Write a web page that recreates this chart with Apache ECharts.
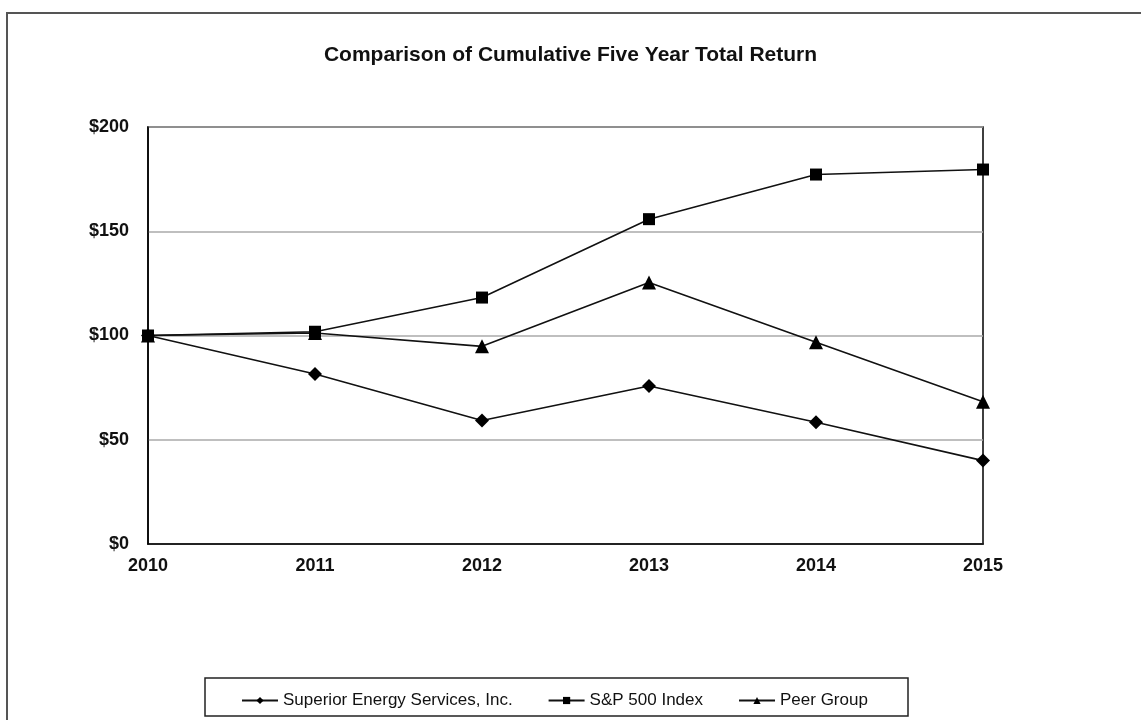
<!DOCTYPE html>
<html>
<head>
<meta charset="utf-8">
<script src="https://cdn.jsdelivr.net/npm/echarts@6/dist/echarts.min.js"></script>
<style>
  html, body { margin: 0; padding: 0; background: #fff; }
  #chart { width: 1141px; height: 720px; }
</style>
</head>
<body>
<div id="chart"></div>
<script>
const years = ['2010', '2011', '2012', '2013', '2014', '2015'];
const superior = [100, 81.5, 59.2, 75.8, 58.4, 40];
const sp500 = [100, 101.8, 118.2, 155.8, 177.2, 179.6];
const peer = [100, 101.2, 94.8, 125.4, 96.8, 68.2];
const seriesNames = ['Superior Energy Services, Inc.', 'S&P 500 Index', 'Peer Group'];

const myChart = echarts.init(document.getElementById('chart'));

const lineSeries = (name, data, symbol, size) => ({
  name,
  type: 'line',
  data,
  symbol,
  symbolSize: size,
  showSymbol: true,
  lineStyle: { color: '#111', width: 1.6 },
  itemStyle: { color: '#000' },
  emphasis: { disabled: true },
  z: 3,
});

myChart.setOption({
  animation: false,
  textStyle: { fontFamily: 'Liberation Sans, Arial, sans-serif' },
  title: {
    text: 'Comparison of Cumulative Five Year Total Return',
    left: 'center',
    top: 40,
    textStyle: { fontSize: 21, fontWeight: 'bold', color: '#111' },
  },
  grid: {
    left: 148,
    right: 158,
    top: 127,
    bottom: 176,
    show: true,
    borderColor: '#000',
    borderWidth: 1.5,
    backgroundColor: 'transparent',
  },
  legend: {
    data: seriesNames,
    left: 236,
    top: 687,
    itemWidth: 36,
    itemHeight: 9,
    itemGap: 35,
    textStyle: { fontSize: 17, color: '#111' },
  },
  graphic: [
    {
      type: 'rect',
      shape: { x: 7, y: 13, width: 1150, height: 720 },
      style: { fill: 'none', stroke: '#555', lineWidth: 2 },
      silent: true,
    },
    {
      type: 'rect',
      shape: { x: 205, y: 678, width: 703, height: 38 },
      style: { fill: 'none', stroke: '#222', lineWidth: 1.5 },
      silent: true,
    },
  ],
  xAxis: {
    type: 'category',
    data: years,
    boundaryGap: false,
    axisLine: { lineStyle: { color: '#000', width: 1.5 } },
    axisTick: { show: false },
    axisLabel: { fontSize: 18, fontWeight: 'bold', color: '#111', margin: 13 },
  },
  yAxis: {
    type: 'value',
    min: 0,
    max: 200,
    interval: 50,
    axisLine: { show: true, lineStyle: { color: '#000', width: 1.5 } },
    axisTick: { show: false },
    axisLabel: {
      fontSize: 18,
      fontWeight: 'bold',
      color: '#111',
      margin: 19,
      formatter: (v) => '$' + v,
    },
    splitLine: { lineStyle: { color: '#aaa', width: 1.5 } },
  },
  series: [
    lineSeries(seriesNames[0], superior, 'diamond', 14),
    lineSeries(seriesNames[1], sp500, 'rect', 12),
    lineSeries(seriesNames[2], peer, 'triangle', 14),
  ],
});
</script>
</body>
</html>
